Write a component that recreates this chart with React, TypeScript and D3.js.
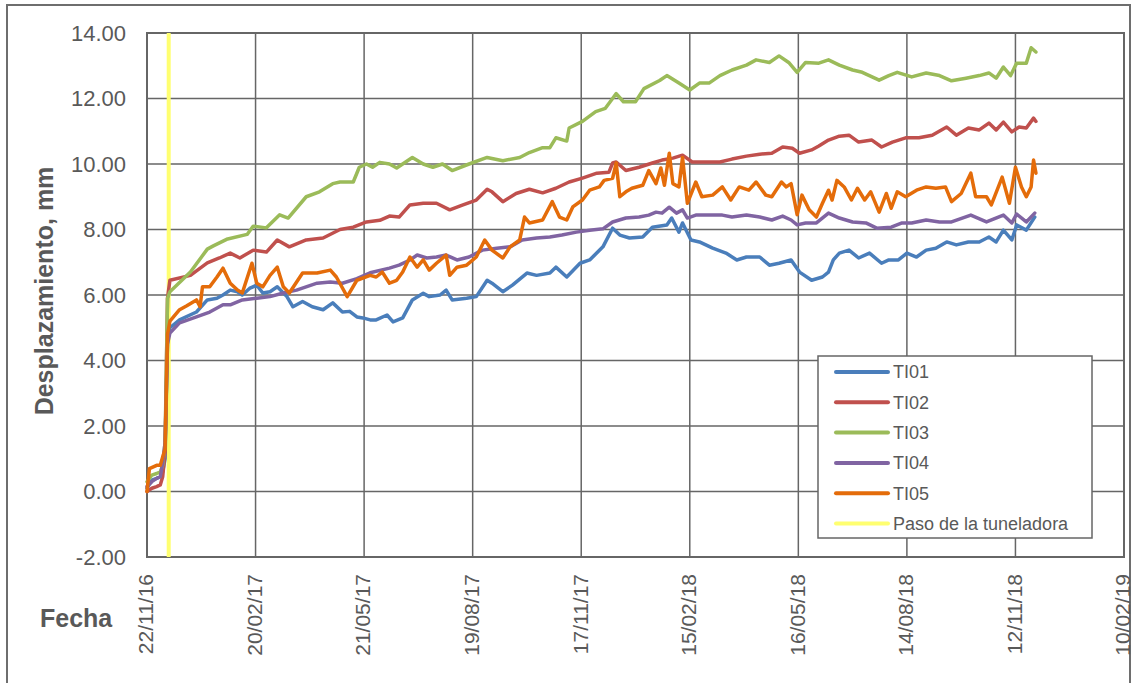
import { useEffect, useRef } from 'react'
import * as d3 from 'd3'

// day offsets from 22/11/16 and displacement in mm
const startDate = new Date(2016, 10, 22)
const endDate = new Date(2019, 1, 10)
const tbmDay = 18

const ti01: [number, number][] = [
  [0, 0.1], [4, 0.35], [8, 0.4], [11, 0.45], [13, 0.6], [15, 1.0], [17, 4.6], [19, 5.0], [27, 5.24], [41, 5.48],
  [50, 5.85], [58, 5.9], [63, 6.0], [69, 6.15], [75, 6.1], [79, 6.0], [85, 6.2], [91, 6.3], [96, 6.06], [102, 6.1],
  [108, 6.25], [116, 5.95], [121, 5.64], [129, 5.8], [137, 5.64], [146, 5.55], [154, 5.76], [162, 5.48], [168, 5.5],
  [174, 5.33], [179, 5.3], [185, 5.24], [190, 5.24], [199, 5.39], [204, 5.18], [212, 5.3], [220, 5.85], [229, 6.05],
  [234, 5.95], [243, 6.0], [248, 6.15], [253, 5.85], [265, 5.9], [273, 5.95], [282, 6.45], [286, 6.36], [295, 6.1],
  [303, 6.3], [315, 6.67], [323, 6.6], [334, 6.67], [339, 6.85], [348, 6.55], [359, 6.97], [367, 7.07], [378, 7.47],
  [386, 8.04], [392, 7.83], [400, 7.74], [411, 7.77], [419, 8.07], [431, 8.14], [435, 8.35], [441, 7.92], [444, 8.2],
  [451, 7.68], [458, 7.62], [469, 7.43], [480, 7.28], [489, 7.07], [497, 7.16], [508, 7.16], [516, 6.91], [524, 6.97],
  [534, 7.07], [541, 6.7], [551, 6.45], [560, 6.55], [565, 6.7], [569, 7.07], [574, 7.28], [582, 7.37], [590, 7.13],
  [599, 7.28], [609, 6.97], [615, 7.07], [623, 7.07], [630, 7.28], [638, 7.16], [646, 7.37], [654, 7.43], [663, 7.62],
  [671, 7.53], [681, 7.62], [690, 7.62], [698, 7.77], [704, 7.62], [710, 7.98], [717, 7.68], [721, 8.14], [729, 7.98],
  [736, 8.38],
]

const ti02: [number, number][] = [
  [0, 0.0], [4, 0.1], [8, 0.15], [11, 0.2], [13, 0.45], [15, 1.2], [17, 5.9], [19, 6.45], [36, 6.6], [50, 6.98],
  [60, 7.13], [69, 7.28], [77, 7.13], [88, 7.37], [99, 7.31], [108, 7.68], [118, 7.47], [132, 7.68], [146, 7.74],
  [160, 8.0], [171, 8.07], [182, 8.23], [193, 8.28], [201, 8.41], [209, 8.38], [218, 8.75], [229, 8.8], [240, 8.8],
  [251, 8.6], [262, 8.75], [273, 8.9], [282, 9.23], [286, 9.15], [295, 8.85], [306, 9.1], [317, 9.23], [328, 9.12],
  [339, 9.26], [350, 9.45], [361, 9.57], [373, 9.72], [383, 9.75], [386, 10.03], [389, 10.06], [397, 9.8], [408, 9.9],
  [419, 10.03], [427, 10.12], [436, 10.18], [444, 10.27], [452, 10.06], [464, 10.06], [475, 10.06], [485, 10.15],
  [497, 10.24], [508, 10.3], [518, 10.33], [527, 10.52], [535, 10.48], [541, 10.33], [551, 10.43], [557, 10.55],
  [565, 10.73], [574, 10.85], [582, 10.88], [590, 10.67], [601, 10.73], [609, 10.52], [618, 10.67], [629, 10.8],
  [640, 10.8], [651, 10.88], [663, 11.13], [671, 10.88], [681, 11.1], [690, 11.04], [698, 11.25], [704, 11.04],
  [710, 11.28], [717, 10.98], [723, 11.13], [729, 11.1], [735, 11.4], [737, 11.3],
]

const ti03: [number, number][] = [
  [0, 0.3], [4, 0.5], [8, 0.55], [11, 0.6], [13, 0.8], [15, 1.5], [17, 5.9], [19, 6.1], [36, 6.7], [50, 7.4],
  [55, 7.5], [66, 7.7], [83, 7.85], [88, 8.1], [99, 8.05], [110, 8.45], [117, 8.35], [132, 9.0], [143, 9.15],
  [154, 9.4], [160, 9.45], [171, 9.45], [176, 9.9], [182, 10.0], [187, 9.9], [193, 10.05], [201, 10.0], [207, 9.88],
  [220, 10.2], [229, 10.0], [237, 9.9], [245, 10.0], [253, 9.8], [267, 10.0], [282, 10.2], [295, 10.1], [309, 10.2],
  [317, 10.35], [328, 10.5], [334, 10.5], [339, 10.8], [348, 10.7], [350, 11.1], [361, 11.3], [372, 11.6], [380, 11.7],
  [386, 12.0], [389, 12.15], [395, 11.9], [405, 11.9], [412, 12.3], [425, 12.55], [431, 12.7], [441, 12.47],
  [450, 12.26], [458, 12.47], [466, 12.47], [475, 12.7], [485, 12.87], [497, 13.02], [505, 13.18], [516, 13.1],
  [524, 13.3], [532, 13.1], [539, 12.8], [546, 13.1], [557, 13.08], [565, 13.18], [574, 13.02], [585, 12.87],
  [593, 12.8], [607, 12.56], [615, 12.7], [622, 12.8], [634, 12.66], [646, 12.78], [657, 12.7], [667, 12.54],
  [679, 12.62], [690, 12.7], [698, 12.78], [704, 12.62], [710, 12.96], [716, 12.7], [721, 13.08], [729, 13.08],
  [733, 13.55], [737, 13.42],
]

const ti04: [number, number][] = [
  [0, 0.15], [4, 0.3], [8, 0.4], [11, 0.45], [13, 0.87], [15, 1.5], [17, 4.5], [19, 4.84], [27, 5.15], [41, 5.33],
  [52, 5.48], [63, 5.7], [69, 5.7], [79, 5.85], [91, 5.9], [102, 5.95], [113, 6.06], [124, 6.15], [141, 6.36],
  [152, 6.4], [162, 6.36], [174, 6.5], [185, 6.68], [201, 6.82], [209, 6.91], [218, 7.07], [224, 7.22], [232, 7.13],
  [240, 7.16], [248, 7.22], [257, 7.07], [267, 7.16], [278, 7.37], [290, 7.43], [301, 7.47], [311, 7.68], [323, 7.74],
  [334, 7.77], [344, 7.83], [356, 7.92], [367, 7.98], [378, 8.02], [386, 8.23], [397, 8.35], [408, 8.38], [416, 8.44],
  [422, 8.53], [427, 8.5], [433, 8.68], [439, 8.5], [444, 8.6], [448, 8.35], [455, 8.44], [466, 8.44], [477, 8.44],
  [485, 8.38], [497, 8.44], [508, 8.38], [518, 8.29], [527, 8.41], [534, 8.29], [539, 8.14], [546, 8.2], [555, 8.2],
  [565, 8.5], [574, 8.35], [585, 8.23], [596, 8.2], [605, 8.04], [617, 8.07], [626, 8.2], [634, 8.2], [646, 8.29],
  [657, 8.23], [667, 8.23], [683, 8.44], [696, 8.23], [710, 8.44], [717, 8.2], [721, 8.47], [729, 8.23], [736, 8.5],
]

const ti05: [number, number][] = [
  [0, 0.0], [2, 0.7], [8, 0.8], [11, 0.8], [13, 1.05], [15, 1.3], [17, 4.8], [19, 5.2], [27, 5.55], [33, 5.67],
  [41, 5.85], [44, 5.64], [46, 6.25], [52, 6.25], [58, 6.55], [63, 6.82], [69, 6.36], [75, 6.15], [79, 6.06],
  [87, 6.97], [91, 6.36], [96, 6.25], [102, 6.6], [108, 6.85], [113, 6.25], [118, 6.06], [129, 6.67], [141, 6.67],
  [152, 6.76], [157, 6.55], [166, 5.95], [174, 6.45], [185, 6.6], [190, 6.55], [195, 6.7], [201, 6.36], [207, 6.45],
  [212, 6.7], [218, 7.16], [224, 6.85], [229, 7.07], [234, 6.76], [240, 6.97], [248, 7.22], [251, 6.6], [257, 6.85],
  [265, 6.91], [273, 7.16], [280, 7.68], [286, 7.37], [295, 7.13], [301, 7.47], [309, 7.68], [313, 8.38], [317, 8.2],
  [328, 8.29], [336, 8.85], [342, 8.38], [348, 8.29], [353, 8.69], [361, 8.9], [367, 9.2], [375, 9.3], [379, 9.5],
  [386, 9.56], [389, 10.03], [392, 9.0], [397, 9.15], [402, 9.26], [411, 9.35], [416, 9.8], [422, 9.4], [426, 9.88],
  [429, 9.35], [433, 10.33], [436, 9.4], [441, 9.3], [444, 10.2], [448, 8.8], [455, 9.45], [460, 9.0], [469, 9.05],
  [477, 9.3], [484, 8.9], [491, 9.3], [499, 9.2], [505, 9.45], [513, 9.05], [518, 9.0], [526, 9.45], [530, 9.3],
  [534, 9.4], [539, 8.45], [543, 9.05], [549, 8.6], [555, 8.38], [560, 8.8], [565, 9.2], [568, 8.9], [572, 9.5],
  [578, 9.3], [584, 8.9], [589, 9.26], [595, 8.9], [600, 9.15], [607, 8.53], [613, 9.1], [617, 8.65], [622, 9.15],
  [629, 9.0], [638, 9.2], [646, 9.3], [654, 9.26], [662, 9.3], [667, 8.85], [675, 9.1], [683, 9.72], [687, 9.0],
  [696, 9.0], [700, 8.75], [709, 9.6], [715, 8.8], [720, 9.9], [725, 9.3], [729, 9.0], [733, 9.3], [735, 10.12],
  [737, 9.72],
]

const seriesNames = ['TI01', 'TI02', 'TI03', 'TI04', 'TI05']
const seriesData = [ti01, ti02, ti03, ti04, ti05]
const seriesColors = ['#4A7EBB', '#C0504D', '#9BBB59', '#8064A2', '#E46C0A']
const tbmLabel = 'Paso de la tuneladora'
const tbmColor = '#FFFF70'
const yTicks = [-2, 0, 2, 4, 6, 8, 10, 12, 14]
const xTickStep = 90

const App = () => {
  const svgRef = useRef<SVGSVGElement>(null)

  useEffect(() => {
    if (!svgRef.current) return
    const width = 1135
    const height = 683
    const margin = { top: 33, right: 11, bottom: 126, left: 147 }
    const textColor = '#595959'
    const gridColor = '#666666'
    const font = '"Liberation Sans", Arial, sans-serif'

    d3.select(svgRef.current).selectAll('*').remove()
    const svg = d3.select(svgRef.current)
      .attr('width', width)
      .attr('height', height)
      .style('font-family', font)

    svg.append('rect').attr('width', width).attr('height', height).attr('fill', 'white')
    svg.append('rect')
      .attr('x', 7).attr('y', 5).attr('width', 1123).attr('height', 720)
      .attr('fill', 'none').attr('stroke', '#6e6e6e').attr('stroke-width', 2)

    const x = d3.scaleTime().domain([startDate, endDate]).range([margin.left, width - margin.right])
    const y = d3.scaleLinear().domain([-2, 14]).range([height - margin.bottom, margin.top])

    const xTicks = d3.range(0, 811, xTickStep).map(d => d3.timeDay.offset(startDate, d))

    // grid
    const grid = svg.append('g')
    grid.selectAll('.hg').data(yTicks).enter().append('line')
      .attr('x1', x.range()[0]).attr('x2', x.range()[1])
      .attr('y1', d => y(d)).attr('y2', d => y(d))
      .attr('stroke', gridColor).attr('stroke-width', 1.5)
    grid.selectAll('.vg').data(xTicks).enter().append('line')
      .attr('x1', d => x(d)).attr('x2', d => x(d))
      .attr('y1', y.range()[0]).attr('y2', y.range()[1])
      .attr('stroke', gridColor).attr('stroke-width', 1.5)
    grid.append('rect')
      .attr('x', x.range()[0]).attr('y', y.range()[1])
      .attr('width', x.range()[1] - x.range()[0]).attr('height', y.range()[0] - y.range()[1])
      .attr('fill', 'none').attr('stroke', gridColor).attr('stroke-width', 2)

    // tunnel boring machine passage
    const tbmX = x(d3.timeDay.offset(startDate, tbmDay))
    svg.append('line')
      .attr('x1', tbmX).attr('x2', tbmX)
      .attr('y1', y(-2)).attr('y2', y(14))
      .attr('stroke', tbmColor).attr('stroke-width', 4)

    const line = d3.line<[number, number]>()
      .x(d => x(d3.timeDay.offset(startDate, d[0])))
      .y(d => y(d[1]))

    seriesData.forEach((data, i) => {
      svg.append('path')
        .datum(data)
        .attr('d', line)
        .attr('fill', 'none')
        .attr('stroke', seriesColors[i])
        .attr('stroke-width', 3.5)
        .attr('stroke-linejoin', 'round')
        .attr('stroke-linecap', 'round')
    })

    // y tick labels
    svg.selectAll('.yl').data(yTicks).enter().append('text')
      .attr('x', 126).attr('y', d => y(d))
      .attr('dy', '0.35em')
      .attr('text-anchor', 'end')
      .attr('fill', textColor)
      .attr('font-size', 22)
      .text(d => d.toFixed(2))

    // x tick labels
    const fmt = d3.timeFormat('%d/%m/%y')
    svg.selectAll('.xl').data(xTicks).enter().append('text')
      .attr('transform', d => `translate(${x(d)},574) rotate(-90)`)
      .attr('dy', '0.3em')
      .attr('text-anchor', 'end')
      .attr('fill', textColor)
      .attr('font-size', 21)
      .text(d => fmt(d))

    svg.append('text')
      .attr('transform', 'translate(44,291) rotate(-90)')
      .attr('dy', '0.35em')
      .attr('text-anchor', 'middle')
      .attr('fill', textColor)
      .attr('font-size', 25)
      .attr('font-weight', 'bold')
      .text('Desplazamiento, mm')

    svg.append('text')
      .attr('x', 40).attr('y', 627)
      .attr('fill', textColor)
      .attr('font-size', 25)
      .attr('font-weight', 'bold')
      .text('Fecha')

    // legend
    const legend = svg.append('g')
    legend.append('rect')
      .attr('x', 818).attr('y', 356).attr('width', 274).attr('height', 182)
      .attr('fill', 'white').attr('stroke', gridColor).attr('stroke-width', 1.5)
    const items = seriesNames.map((n, i) => ({ name: n, color: seriesColors[i] }))
      .concat([{ name: tbmLabel, color: tbmColor }])
    const rows = legend.selectAll('.li').data(items).enter().append('g')
      .attr('transform', (_d, i) => `translate(0,${372 + i * 30.3})`)
    rows.append('line')
      .attr('x1', 836).attr('x2', 888)
      .attr('stroke', d => d.color).attr('stroke-width', 4).attr('stroke-linecap', 'round')
    rows.append('text')
      .attr('x', 893).attr('dy', '0.35em')
      .attr('fill', textColor)
      .attr('font-size', 18)
      .text(d => d.name)
  }, [])

  return (
    <div style={{ position: 'absolute', left: 0, top: 0 }}>
      <svg ref={svgRef}></svg>
    </div>
  )
}

export default App
